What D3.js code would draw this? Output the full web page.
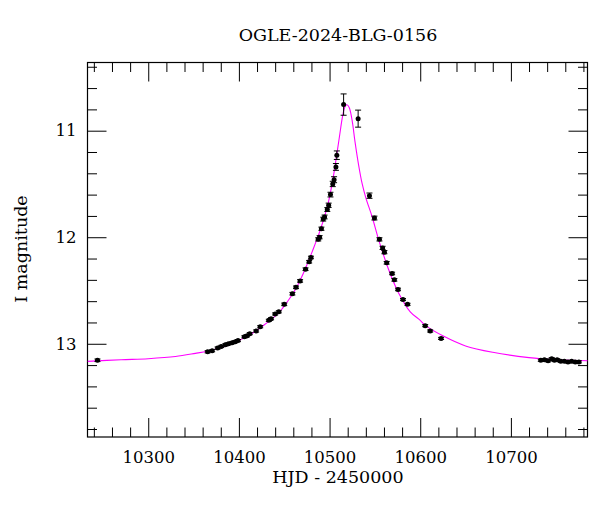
<!DOCTYPE html>
<html>
<head>
<meta charset="utf-8">
<script src="https://cdn.jsdelivr.net/npm/d3@7"></script>
<style>
  html, body { margin: 0; padding: 0; background: #fff; }
  svg { display: block; }
  text { font-family: "DejaVu Serif", serif; fill: #000; }
</style>
</head>
<body>
<svg id="chart" width="600" height="512"></svg>
<script>
// ---- data ----
const title = "OGLE-2024-BLG-0156";
const xLabel = "HJD - 2450000";
const yLabel = "I magnitude";

const obsHJD = [10244,
  10365.5, 10370.5, 10376.5, 10380.5, 10385, 10388.5, 10392.5, 10396, 10399, 10406,
  10409, 10412, 10419, 10423.5, 10433, 10435.5, 10440, 10444, 10450, 10459,
  10463, 10467.5, 10473.5, 10477.5, 10479.5, 10487.5, 10489, 10491, 10493, 10494.5,
  10497.5, 10499, 10501, 10503.5, 10505, 10507, 10508, 10515.5, 10531.5,
  10544, 10549.5, 10555, 10558.5, 10560.5, 10563, 10569, 10571.5, 10575.5, 10581,
  10586, 10605.5, 10611, 10623,
  10733, 10737, 10741, 10745, 10748, 10751, 10755, 10759, 10763, 10767, 10771, 10775];
const obsMag = [13.155,
  13.075, 13.065, 13.04, 13.025, 13.01, 13.0, 12.99, 12.98, 12.97, 12.935,
  12.925, 12.905, 12.88, 12.84, 12.78, 12.765, 12.72, 12.70, 12.63, 12.53,
  12.47, 12.41, 12.30, 12.23, 12.19, 12.02, 12.00, 11.92, 11.83, 11.81,
  11.74, 11.70, 11.60, 11.50, 11.46, 11.34, 11.23, 10.755, 10.887,
  11.61, 11.82, 12.02, 12.10, 12.14, 12.24, 12.34, 12.40, 12.49, 12.585,
  12.63, 12.83, 12.88, 12.95,
  13.155, 13.15, 13.16, 13.14, 13.155, 13.15, 13.165, 13.165, 13.17, 13.165, 13.17, 13.17];
const obsErr = [0.012,
  0.01, 0.01, 0.01, 0.01, 0.01, 0.01, 0.01, 0.01, 0.01, 0.01,
  0.01, 0.01, 0.01, 0.01, 0.01, 0.01, 0.01, 0.01, 0.012, 0.012,
  0.012, 0.012, 0.012, 0.012, 0.012, 0.015, 0.015, 0.015, 0.018, 0.018,
  0.018, 0.02, 0.022, 0.025, 0.028, 0.032, 0.04, 0.10, 0.08,
  0.025, 0.018, 0.015, 0.015, 0.015, 0.012, 0.012, 0.012, 0.012, 0.01,
  0.01, 0.01, 0.01, 0.01,
  0.01, 0.01, 0.01, 0.01, 0.01, 0.01, 0.01, 0.01, 0.01, 0.01, 0.01, 0.01];

// model curve
const modelHJD = [10233, 10270, 10300, 10330, 10352, 10365, 10381, 10395, 10407, 10417,
  10425, 10433, 10440, 10446, 10453, 10461, 10471, 10482, 10489, 10495,
  10499, 10504, 10508, 10511, 10514, 10516, 10518, 10520, 10522, 10525,
  10528, 10532, 10536, 10540, 10547, 10554, 10565, 10576, 10589, 10600,
  10606, 10626, 10650, 10680, 10720, 10750, 10785];
const modelMag = [13.165, 13.15, 13.14, 13.12, 13.09, 13.07, 13.035, 12.99, 12.94, 12.89,
  12.84, 12.79, 12.74, 12.69, 12.61, 12.51, 12.34, 12.11, 11.95, 11.79,
  11.66, 11.44, 11.22, 11.05, 10.88, 10.80, 10.76, 10.76, 10.79, 10.91,
  11.10, 11.32, 11.50, 11.63, 11.81, 12.02, 12.30, 12.52, 12.70, 12.78,
  12.83, 12.93, 13.02, 13.08, 13.13, 13.15, 13.16];

const xMajor = [10300, 10400, 10500, 10600, 10700];
const xMinor = d3.range(10240, 10781, 20).filter(v => v % 100 !== 0);
const yMajor = [11, 12, 13];
const yMinor = [10.4, 10.6, 10.8, 11.2, 11.4, 11.6, 11.8, 12.2, 12.4, 12.6, 12.8, 13.2, 13.4, 13.6, 13.8];

// ---- drawing ----
const svg = d3.select("#chart");
const L = 87.5, R = 587.5, T = 62.5, B = 437;

const x = d3.scaleLinear().domain([10233, 10784.5]).range([L, R]);
const y = d3.scaleLinear().domain([10.36, 13.875]).range([T, B]);

const majLen = 19, minLen = 9.5;

function addAxis(axisGen, scale, vals, size, tr, labels, pad) {
  const a = axisGen(scale).tickValues(vals).tickSize(-size).tickPadding(pad || 0);
  if (!labels) a.tickFormat("");
  else a.tickFormat(d3.format("d"));
  const g = svg.append("g").attr("transform", tr).call(a);
  g.select(".domain").remove();
  g.selectAll(".tick line").attr("stroke", "#000").attr("stroke-width", 1);
  g.selectAll("text").style("font-size", "16.5px").style("font-family", "DejaVu Serif, serif")
    .style("font-weight", "500").attr("fill", "#000");
  return g;
}

// bottom
addAxis(d3.axisBottom, x, xMajor, majLen, `translate(0,${B})`, true, 14);
addAxis(d3.axisBottom, x, xMinor, minLen, `translate(0,${B})`, false);
// top
addAxis(d3.axisTop, x, xMajor, majLen, `translate(0,${T})`, false);
addAxis(d3.axisTop, x, xMinor, minLen, `translate(0,${T})`, false);
// left
addAxis(d3.axisLeft, y, yMajor, majLen, `translate(${L},0)`, true, 11);
addAxis(d3.axisLeft, y, yMinor, minLen, `translate(${L},0)`, false);
// right
addAxis(d3.axisRight, y, yMajor, majLen, `translate(${R},0)`, false);
addAxis(d3.axisRight, y, yMinor, minLen, `translate(${R},0)`, false);

// frame
svg.append("rect").attr("x", L).attr("y", T).attr("width", R - L).attr("height", B - T)
  .attr("fill", "none").attr("stroke", "#000").attr("stroke-width", 1.2);

// clip
svg.append("clipPath").attr("id", "clip").append("rect")
  .attr("x", L).attr("y", T).attr("width", R - L).attr("height", B - T);

const plot = svg.append("g").attr("clip-path", "url(#clip)");

// model curve
const model = modelHJD.map((t, i) => [t, modelMag[i]]);
plot.append("path").datum(model)
  .attr("fill", "none").attr("stroke", "#ff00ff").attr("stroke-width", 1.1)
  .attr("d", d3.line().x(d => x(d[0])).y(d => y(d[1])).curve(d3.curveCatmullRom.alpha(0.5)));

// observations
const obs = obsHJD.map((t, i) => ({ t, m: obsMag[i], e: obsErr[i] }));
const eg = plot.append("g").attr("stroke", "#000").attr("stroke-width", 1);
const cap = 3;
obs.forEach(d => {
  const cx = x(d.t), y1 = y(d.m - d.e), y2 = y(d.m + d.e);
  eg.append("line").attr("x1", cx).attr("x2", cx).attr("y1", y1).attr("y2", y2);
  eg.append("line").attr("x1", cx - cap).attr("x2", cx + cap).attr("y1", y1).attr("y2", y1);
  eg.append("line").attr("x1", cx - cap).attr("x2", cx + cap).attr("y1", y2).attr("y2", y2);
});
plot.append("g").selectAll("circle").data(obs).join("circle")
  .attr("cx", d => x(d.t)).attr("cy", d => y(d.m)).attr("r", 2.5).attr("fill", "#000");

// labels
svg.append("text").attr("x", 338).attr("y", 41).attr("text-anchor", "middle")
  .style("font-size", "17.5px").text(title);
svg.append("text").attr("x", 338).attr("y", 483).attr("text-anchor", "middle")
  .style("font-size", "17.5px").text(xLabel);
svg.append("text").attr("transform", "translate(27,249) rotate(-90)").attr("text-anchor", "middle")
  .style("font-size", "17.5px").text(yLabel);
</script>
</body>
</html>
